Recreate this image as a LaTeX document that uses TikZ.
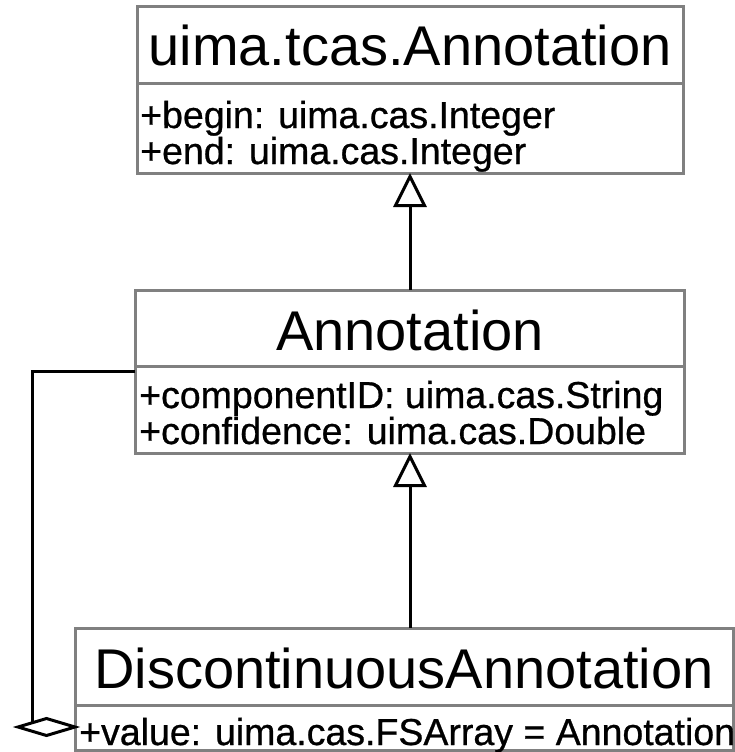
\documentclass[tikz,border=0pt]{standalone}
\usepackage{fontspec}
\setmainfont{Liberation Sans}
\newfontfamily\attrfont{Liberation Sans}[FakeBold=0.7]
\usetikzlibrary{arrows.meta,shapes.geometric}
\definecolor{boxgray}{HTML}{808080}
\tikzset{
  classbox/.style={draw=boxgray, line width=3pt, rectangle, inner sep=0pt, outer sep=0pt, anchor=north west},
  seprule/.style={draw=boxgray, line width=3pt},
  classtitle/.style={anchor=base, inner sep=0pt, font=\fontsize{56}{60}\selectfont},
  attrtext/.style={anchor=base west, inner sep=0pt, font=\attrfont\fontsize{37.5}{35}\selectfont},
  conn/.style={draw=black, line width=3pt},
  genarrow/.style={conn, -{Triangle[open, length=34pt, width=33pt]}},
  aggdiamond/.style={diamond, draw=black, line width=3pt, fill=white, inner sep=0pt, outer sep=0pt, minimum width=57pt, minimum height=17pt}
}
\begin{document}
\begin{tikzpicture}[x=1pt,y=1pt]
\useasboundingbox (0,0) rectangle (735,-752);

% boxes
\node[classbox, minimum width=546pt, minimum height=166pt] (top) at (137,-7) {};
\node[classbox, minimum width=549pt, minimum height=163pt] (mid) at (135,-290) {};
\node[classbox, minimum width=658pt, minimum height=122pt] (disc) at (75,-628) {};

% separators
\draw[seprule] (top.west |- 0,-83) -- (top.east |- 0,-83);
\draw[seprule] (mid.west |- 0,-366) -- (mid.east |- 0,-366);
\draw[seprule] (disc.west |- 0,-705) -- (disc.east |- 0,-705);

% titles
\node[classtitle] (toptitle) at (410,-66) {uima.tcas.Annotation};
\node[classtitle] (midtitle) at (410,-350) {Annotation};
\node[classtitle] (disctitle) at (404,-688) {DiscontinuousAnnotation};

% attributes
\node[attrtext] (topa1) at (140,-128) {+begin: uima.cas.Integer};
\node[attrtext] (topa2) at (140,-164) {+end: uima.cas.Integer};
\node[attrtext] (mida1) at (139,-408) {+componentID: uima.cas.String};
\node[attrtext] (mida2) at (139,-444) {+confidence: uima.cas.Double};
\node[attrtext] (disca1) at (79,-745) {+value: uima.cas.FSArray = Annotation};

% generalizations
\draw[genarrow] (top.south |- mid.north) -- (top.south);
\draw[genarrow] (top.south |- disc.north) -- (top.south |- mid.south);

% aggregation
\node[aggdiamond] (agg) at (46.5,-727) {};
\draw[conn] (mid.west) -| (agg.north west);
\end{tikzpicture}
\end{document}
